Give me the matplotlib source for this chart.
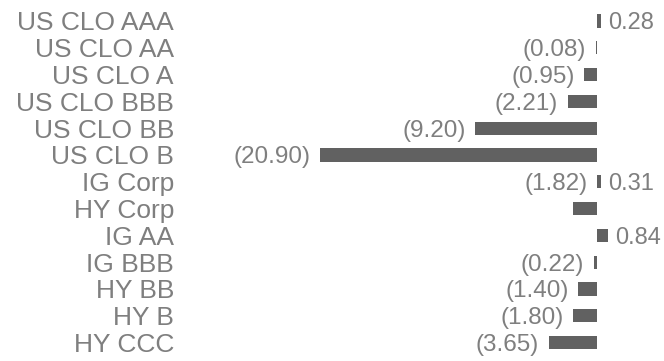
import matplotlib

matplotlib.use("Agg")
import matplotlib.pyplot as plt
from matplotlib.transforms import blended_transform_factory

categories = [
    "US CLO AAA",
    "US CLO AA",
    "US CLO A",
    "US CLO BBB",
    "US CLO BB",
    "US CLO B",
    "IG Corp",
    "HY Corp",
    "IG AA",
    "IG BBB",
    "HY BB",
    "HY B",
    "HY CCC",
]
values = [0.28, -0.08, -0.95, -2.21, -9.20, -20.90, 0.31, -1.82, 0.84, -0.22, -1.40, -1.80, -3.65]

TEXT_COLOR = "#7f7f7f"
BAR_COLOR = "#616161"
FONT = "Liberation Sans"


def fmt(v):
    # negatives shown in accounting style
    if v < 0:
        return f"({abs(v):.2f})"
    return f"{v:.2f}"


fig = plt.figure(figsize=(6.64, 3.61), dpi=100)
ax = fig.add_axes([0, 0, 1, 1])

rows = list(range(len(categories)))
ax.barh(rows, values, height=0.49, color=BAR_COLOR)

px_per_unit = 13.25
row_px = 26.8
ax.set_xlim(-597 / px_per_unit, (664 - 597) / px_per_unit)
ax.set_ylim((361 - 21) / row_px, -21 / row_px)
ax.axis("off")

trans = blended_transform_factory(ax.transAxes, ax.transData)
for i, name in enumerate(categories):
    ax.text(174 / 664, i, name, transform=trans, ha="right", va="center_baseline",
            fontsize=19, color=TEXT_COLOR, family=FONT)

for i, v in enumerate(values):
    # in the source the HY Corp label sits one row up, next to IG Corp
    y = i - 1 if categories[i] == "HY Corp" else i
    x = v if categories[i] != "HY Corp" else 0
    if v < 0:
        ax.annotate(fmt(v), (x, y), xytext=(-7, 0), textcoords="offset points",
                    ha="right", va="center_baseline", fontsize=17.5, color=TEXT_COLOR, family=FONT)
    else:
        ax.annotate(fmt(v), (v, y), xytext=(5, 0), textcoords="offset points",
                    ha="left", va="center_baseline", fontsize=17, color=TEXT_COLOR, family=FONT)

fig.savefig("out.png", dpi=100)
